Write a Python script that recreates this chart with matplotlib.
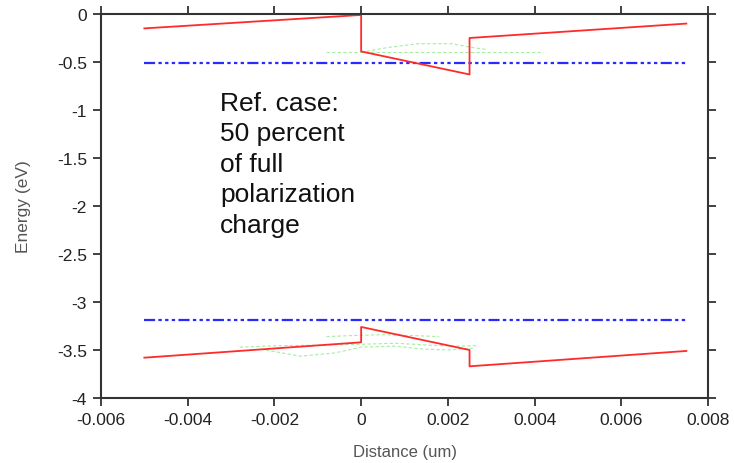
import numpy as np
import matplotlib
matplotlib.use("Agg")
import matplotlib.pyplot as plt

plt.rcParams['font.family'] = ['Liberation Sans', 'DejaVu Sans']
plt.rcParams['axes.unicode_minus'] = False

# band edges (eV) vs distance (um)
x_band = [-0.005, 0.0, 0.0, 0.0025, 0.0025, 0.0075]
e_cond = [-0.15, -0.01, -0.39, -0.63, -0.25, -0.10]
e_val = [-3.58, -3.42, -3.26, -3.50, -3.67, -3.51]

# quasi fermi levels
x_fermi = [-0.005, 0.0075]
e_fn = [-0.515, -0.515]
e_fp = [-3.185, -3.185]

# electron states (shifted by eigen energy)
x_e1 = [-0.0008, 0.0042]
y_e1 = [-0.40, -0.40]
x_e2 = [0.0, 0.0006, 0.0013, 0.0021, 0.0025, 0.0029]
y_e2 = [-0.40, -0.35, -0.31, -0.31, -0.345, -0.37]

# hole states
x_h1 = [-0.0008, -0.0002, 0.0005, 0.0012, 0.0018]
y_h1 = [-3.36, -3.35, -3.34, -3.35, -3.36]
x_h2 = [-0.0028, -0.0019, -0.001, 0.0, 0.0008, 0.0016, 0.0022, 0.0027]
y_h2 = [-3.47, -3.455, -3.45, -3.44, -3.43, -3.45, -3.46, -3.455]
x_h3 = [-0.0022, -0.0014, -0.0006, 0.0, 0.0008, 0.0014, 0.002, 0.0026]
y_h3 = [-3.50, -3.565, -3.53, -3.47, -3.46, -3.49, -3.50, -3.48]

xticks = [-0.006, -0.004, -0.002, 0, 0.002, 0.004, 0.006, 0.008]
xlabels = ['-0.006', '-0.004', '-0.002', '0', '0.002', '0.004', '0.006', '0.008']
yticks = [0, -0.5, -1, -1.5, -2, -2.5, -3, -3.5, -4]
ylabels = ['0', '-0.5', '-1', '-1.5', '-2', '-2.5', '-3', '-3.5', '-4']

fig = plt.figure(figsize=(7.34, 4.64), dpi=100)
ax = fig.add_axes([0.1376, 0.1401, 0.8270, 0.8276])

green = '#8fe88f'
for xs, ys in [(x_e1, y_e1), (x_e2, y_e2), (x_h1, y_h1), (x_h2, y_h2), (x_h3, y_h3)]:
    ax.plot(xs, ys, color=green, lw=0.8, ls=(0, (3, 2)), alpha=0.8)

dashdot = (0, (5, 1.5, 1.5, 1.5, 1.5, 1.5, 1.5, 1.5))
ax.plot(x_fermi, e_fn, color='#2a2aff', lw=1.6, ls=dashdot)
ax.plot(x_fermi, e_fp, color='#2a2aff', lw=1.6, ls=dashdot)
ax.plot(x_band, e_cond, color='#ff2a2a', lw=1.3)
ax.plot(x_band, e_val, color='#ff2a2a', lw=1.3)

ax.set_xlim(-0.006, 0.008)
ax.set_ylim(-4, 0)
ax.set_xticks(xticks)
ax.set_xticklabels(xlabels)
ax.set_yticks(yticks)
ax.set_yticklabels(ylabels)
ax.tick_params(direction='out', length=6, width=1.3, color='#333333',
               labelsize=12.5, labelcolor='#222222',
               top=True, right=True, pad=4)
for sp in ax.spines.values():
    sp.set_linewidth(1.5)
    sp.set_color('#333333')

ax.set_xlabel('Distance (um)', fontsize=12, color='#555555', labelpad=12)
ax.set_ylabel('Energy (eV)', fontsize=12.5, color='#555555', labelpad=19)

ax.text(-0.00325, -0.80, 'Ref. case:\n50 percent\nof full\npolarization\ncharge',
        fontsize=19, color='#111111', va='top', ha='left', linespacing=1.34)

fig.savefig('out.png', dpi=100)
